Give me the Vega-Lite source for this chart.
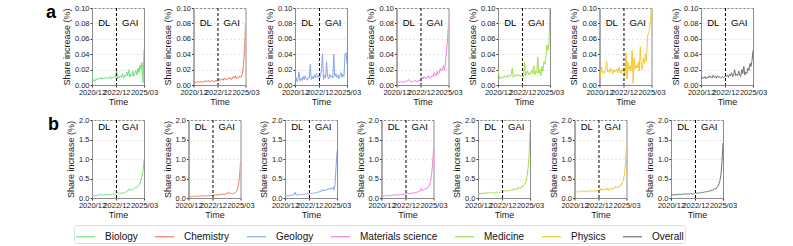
{
  "$schema": "https://vega.github.io/schema/vega-lite/v6.json",
  "padding": {"left": 45, "top": 3, "right": 5, "bottom": 0},
  "background": "white",
  "datasets": {
    "a": [
      {"t":"2020-12-01","Biology":0.015,"Chemistry":0.004,"Geology":0.006,"Materials science":0.005,"Medicine":0.020,"Physics":0.008,"Overall":0.012},
      {"t":"2021-01-01","Biology":0.006,"Chemistry":0.002,"Geology":0.010,"Materials science":0.003,"Medicine":0.012,"Physics":0.014,"Overall":0.008},
      {"t":"2021-02-01","Biology":0.005,"Chemistry":0.004,"Geology":0.004,"Materials science":0.004,"Medicine":0.008,"Physics":0.023,"Overall":0.010},
      {"t":"2021-03-01","Biology":0.007,"Chemistry":0.003,"Geology":0.008,"Materials science":0.003,"Medicine":0.010,"Physics":0.016,"Overall":0.009},
      {"t":"2021-04-01","Biology":0.006,"Chemistry":0.005,"Geology":0.017,"Materials science":0.004,"Medicine":0.009,"Physics":0.018,"Overall":0.011},
      {"t":"2021-05-01","Biology":0.008,"Chemistry":0.003,"Geology":0.005,"Materials science":0.005,"Medicine":0.011,"Physics":0.015,"Overall":0.008},
      {"t":"2021-06-01","Biology":0.007,"Chemistry":0.004,"Geology":0.009,"Materials science":0.003,"Medicine":0.010,"Physics":0.020,"Overall":0.010},
      {"t":"2021-07-01","Biology":0.009,"Chemistry":0.005,"Geology":0.006,"Materials science":0.004,"Medicine":0.012,"Physics":0.031,"Overall":0.009},
      {"t":"2021-08-01","Biology":0.008,"Chemistry":0.003,"Geology":0.011,"Materials science":0.005,"Medicine":0.011,"Physics":0.017,"Overall":0.012},
      {"t":"2021-09-01","Biology":0.010,"Chemistry":0.004,"Geology":0.007,"Materials science":0.004,"Medicine":0.010,"Physics":0.019,"Overall":0.010},
      {"t":"2021-10-01","Biology":0.007,"Chemistry":0.005,"Geology":0.012,"Materials science":0.005,"Medicine":0.013,"Physics":0.016,"Overall":0.011},
      {"t":"2021-11-01","Biology":0.009,"Chemistry":0.004,"Geology":0.008,"Materials science":0.006,"Medicine":0.012,"Physics":0.022,"Overall":0.009},
      {"t":"2021-12-01","Biology":0.008,"Chemistry":0.006,"Geology":0.006,"Materials science":0.007,"Medicine":0.011,"Physics":0.018,"Overall":0.013},
      {"t":"2022-01-01","Biology":0.010,"Chemistry":0.004,"Geology":0.010,"Materials science":0.005,"Medicine":0.014,"Physics":0.015,"Overall":0.010},
      {"t":"2022-02-01","Biology":0.009,"Chemistry":0.005,"Geology":0.009,"Materials science":0.004,"Medicine":0.022,"Physics":0.020,"Overall":0.011},
      {"t":"2022-03-01","Biology":0.008,"Chemistry":0.006,"Geology":0.027,"Materials science":0.005,"Medicine":0.010,"Physics":0.017,"Overall":0.009},
      {"t":"2022-04-01","Biology":0.010,"Chemistry":0.004,"Geology":0.007,"Materials science":0.004,"Medicine":0.012,"Physics":0.019,"Overall":0.012},
      {"t":"2022-05-01","Biology":0.009,"Chemistry":0.005,"Geology":0.011,"Materials science":0.005,"Medicine":0.013,"Physics":0.021,"Overall":0.010},
      {"t":"2022-06-01","Biology":0.011,"Chemistry":0.006,"Geology":0.008,"Materials science":0.006,"Medicine":0.011,"Physics":0.016,"Overall":0.011},
      {"t":"2022-07-01","Biology":0.008,"Chemistry":0.005,"Geology":0.013,"Materials science":0.005,"Medicine":0.014,"Physics":0.023,"Overall":0.009},
      {"t":"2022-08-01","Biology":0.010,"Chemistry":0.004,"Geology":0.009,"Materials science":0.004,"Medicine":0.012,"Physics":0.018,"Overall":0.010},
      {"t":"2022-09-01","Biology":0.009,"Chemistry":0.006,"Geology":0.015,"Materials science":0.005,"Medicine":0.013,"Physics":0.015,"Overall":0.011},
      {"t":"2022-10-01","Biology":0.011,"Chemistry":0.005,"Geology":0.010,"Materials science":0.006,"Medicine":0.011,"Physics":0.020,"Overall":0.009},
      {"t":"2022-11-01","Biology":0.010,"Chemistry":0.006,"Geology":0.012,"Materials science":0.005,"Medicine":0.012,"Physics":0.017,"Overall":0.010},
      {"t":"2022-12-01","Biology":0.020,"Chemistry":0.005,"Geology":0.008,"Materials science":0.006,"Medicine":0.014,"Physics":0.022,"Overall":0.012},
      {"t":"2023-01-01","Biology":0.008,"Chemistry":0.008,"Geology":0.012,"Materials science":0.010,"Medicine":0.010,"Physics":0.012,"Overall":0.011},
      {"t":"2023-02-01","Biology":0.011,"Chemistry":0.006,"Geology":0.020,"Materials science":0.008,"Medicine":0.030,"Physics":0.042,"Overall":0.013},
      {"t":"2023-03-01","Biology":0.009,"Chemistry":0.007,"Geology":0.040,"Materials science":0.011,"Medicine":0.012,"Physics":0.008,"Overall":0.010},
      {"t":"2023-04-01","Biology":0.012,"Chemistry":0.008,"Geology":0.007,"Materials science":0.009,"Medicine":0.015,"Physics":0.030,"Overall":0.014},
      {"t":"2023-05-01","Biology":0.010,"Chemistry":0.006,"Geology":0.013,"Materials science":0.008,"Medicine":0.018,"Physics":0.020,"Overall":0.012},
      {"t":"2023-06-01","Biology":0.015,"Chemistry":0.009,"Geology":0.009,"Materials science":0.010,"Medicine":0.013,"Physics":0.025,"Overall":0.016},
      {"t":"2023-07-01","Biology":0.009,"Chemistry":0.007,"Geology":0.030,"Materials science":0.012,"Medicine":0.016,"Physics":0.018,"Overall":0.011},
      {"t":"2023-08-01","Biology":0.013,"Chemistry":0.008,"Geology":0.011,"Materials science":0.009,"Medicine":0.014,"Physics":0.045,"Overall":0.013},
      {"t":"2023-09-01","Biology":0.011,"Chemistry":0.007,"Geology":0.008,"Materials science":0.011,"Medicine":0.019,"Physics":0.002,"Overall":0.020},
      {"t":"2023-10-01","Biology":0.017,"Chemistry":0.009,"Geology":0.014,"Materials science":0.010,"Medicine":0.015,"Physics":0.035,"Overall":0.012},
      {"t":"2023-11-01","Biology":0.012,"Chemistry":0.008,"Geology":0.010,"Materials science":0.012,"Medicine":0.025,"Physics":0.020,"Overall":0.014},
      {"t":"2023-12-01","Biology":0.020,"Chemistry":0.010,"Geology":0.012,"Materials science":0.011,"Medicine":0.013,"Physics":0.026,"Overall":0.012},
      {"t":"2024-01-01","Biology":0.010,"Chemistry":0.007,"Geology":0.009,"Materials science":0.016,"Medicine":0.018,"Physics":0.022,"Overall":0.018},
      {"t":"2024-02-01","Biology":0.014,"Chemistry":0.009,"Geology":0.040,"Materials science":0.013,"Medicine":0.016,"Physics":0.030,"Overall":0.013},
      {"t":"2024-03-01","Biology":0.012,"Chemistry":0.011,"Geology":0.011,"Materials science":0.012,"Medicine":0.036,"Physics":0.018,"Overall":0.011},
      {"t":"2024-04-01","Biology":0.018,"Chemistry":0.009,"Geology":0.015,"Materials science":0.018,"Medicine":0.015,"Physics":0.050,"Overall":0.020},
      {"t":"2024-05-01","Biology":0.011,"Chemistry":0.012,"Geology":0.010,"Materials science":0.014,"Medicine":0.020,"Physics":0.025,"Overall":0.015},
      {"t":"2024-06-01","Biology":0.015,"Chemistry":0.008,"Geology":0.013,"Materials science":0.016,"Medicine":0.012,"Physics":0.020,"Overall":0.024},
      {"t":"2024-07-01","Biology":0.019,"Chemistry":0.010,"Geology":0.008,"Materials science":0.022,"Medicine":0.024,"Physics":0.035,"Overall":0.013},
      {"t":"2024-08-01","Biology":0.013,"Chemistry":0.009,"Geology":0.012,"Materials science":0.018,"Medicine":0.018,"Physics":0.028,"Overall":0.017},
      {"t":"2024-09-01","Biology":0.022,"Chemistry":0.012,"Geology":0.016,"Materials science":0.020,"Medicine":0.030,"Physics":0.040,"Overall":0.015},
      {"t":"2024-10-01","Biology":0.016,"Chemistry":0.010,"Geology":0.010,"Materials science":0.025,"Medicine":0.027,"Physics":0.030,"Overall":0.022},
      {"t":"2024-11-01","Biology":0.026,"Chemistry":0.011,"Geology":0.014,"Materials science":0.019,"Medicine":0.038,"Physics":0.062,"Overall":0.019},
      {"t":"2024-12-01","Biology":0.020,"Chemistry":0.015,"Geology":0.011,"Materials science":0.030,"Medicine":0.052,"Physics":0.068,"Overall":0.028},
      {"t":"2025-01-01","Biology":0.029,"Chemistry":0.027,"Geology":0.040,"Materials science":0.045,"Medicine":0.045,"Physics":0.072,"Overall":0.024},
      {"t":"2025-02-01","Biology":0.003,"Chemistry":0.045,"Geology":0.042,"Materials science":0.060,"Medicine":0.055,"Physics":0.085,"Overall":0.032},
      {"t":"2025-03-01","Biology":0.046,"Chemistry":0.079,"Geology":0.028,"Materials science":0.080,"Medicine":0.105,"Physics":0.105,"Overall":0.045}
    ],
    "b": [
      {"t":"2020-12-01","Biology":0.06,"Chemistry":0.03,"Geology":0.06,"Materials science":0.05,"Medicine":0.12,"Physics":0.14,"Overall":0.08},
      {"t":"2021-01-01","Biology":0.05,"Chemistry":0.03,"Geology":0.05,"Materials science":0.04,"Medicine":0.10,"Physics":0.16,"Overall":0.07},
      {"t":"2021-02-01","Biology":0.06,"Chemistry":0.04,"Geology":0.07,"Materials science":0.05,"Medicine":0.11,"Physics":0.17,"Overall":0.08},
      {"t":"2021-03-01","Biology":0.07,"Chemistry":0.03,"Geology":0.05,"Materials science":0.06,"Medicine":0.12,"Physics":0.15,"Overall":0.08},
      {"t":"2021-04-01","Biology":0.06,"Chemistry":0.04,"Geology":0.06,"Materials science":0.05,"Medicine":0.11,"Physics":0.16,"Overall":0.09},
      {"t":"2021-05-01","Biology":0.07,"Chemistry":0.04,"Geology":0.08,"Materials science":0.06,"Medicine":0.12,"Physics":0.17,"Overall":0.08},
      {"t":"2021-06-01","Biology":0.08,"Chemistry":0.05,"Geology":0.06,"Materials science":0.07,"Medicine":0.13,"Physics":0.16,"Overall":0.09},
      {"t":"2021-07-01","Biology":0.07,"Chemistry":0.04,"Geology":0.07,"Materials science":0.06,"Medicine":0.12,"Physics":0.19,"Overall":0.09},
      {"t":"2021-08-01","Biology":0.08,"Chemistry":0.05,"Geology":0.09,"Materials science":0.07,"Medicine":0.13,"Physics":0.17,"Overall":0.10},
      {"t":"2021-09-01","Biology":0.11,"Chemistry":0.05,"Geology":0.08,"Materials science":0.06,"Medicine":0.12,"Physics":0.18,"Overall":0.09},
      {"t":"2021-10-01","Biology":0.08,"Chemistry":0.04,"Geology":0.15,"Materials science":0.07,"Medicine":0.14,"Physics":0.16,"Overall":0.10},
      {"t":"2021-11-01","Biology":0.07,"Chemistry":0.05,"Geology":0.08,"Materials science":0.08,"Medicine":0.13,"Physics":0.18,"Overall":0.09},
      {"t":"2021-12-01","Biology":0.08,"Chemistry":0.06,"Geology":0.07,"Materials science":0.07,"Medicine":0.12,"Physics":0.17,"Overall":0.10},
      {"t":"2022-01-01","Biology":0.08,"Chemistry":0.05,"Geology":0.09,"Materials science":0.08,"Medicine":0.14,"Physics":0.16,"Overall":0.10},
      {"t":"2022-02-01","Biology":0.09,"Chemistry":0.05,"Geology":0.08,"Materials science":0.07,"Medicine":0.15,"Physics":0.18,"Overall":0.11},
      {"t":"2022-03-01","Biology":0.08,"Chemistry":0.06,"Geology":0.10,"Materials science":0.08,"Medicine":0.13,"Physics":0.17,"Overall":0.10},
      {"t":"2022-04-01","Biology":0.09,"Chemistry":0.05,"Geology":0.09,"Materials science":0.09,"Medicine":0.14,"Physics":0.18,"Overall":0.10},
      {"t":"2022-05-01","Biology":0.08,"Chemistry":0.06,"Geology":0.08,"Materials science":0.08,"Medicine":0.13,"Physics":0.19,"Overall":0.11},
      {"t":"2022-06-01","Biology":0.09,"Chemistry":0.06,"Geology":0.10,"Materials science":0.09,"Medicine":0.15,"Physics":0.17,"Overall":0.10},
      {"t":"2022-07-01","Biology":0.09,"Chemistry":0.05,"Geology":0.09,"Materials science":0.08,"Medicine":0.14,"Physics":0.19,"Overall":0.11},
      {"t":"2022-08-01","Biology":0.10,"Chemistry":0.06,"Geology":0.11,"Materials science":0.09,"Medicine":0.15,"Physics":0.18,"Overall":0.11},
      {"t":"2022-09-01","Biology":0.09,"Chemistry":0.06,"Geology":0.10,"Materials science":0.10,"Medicine":0.14,"Physics":0.17,"Overall":0.10},
      {"t":"2022-10-01","Biology":0.10,"Chemistry":0.07,"Geology":0.12,"Materials science":0.09,"Medicine":0.16,"Physics":0.19,"Overall":0.11},
      {"t":"2022-11-01","Biology":0.10,"Chemistry":0.06,"Geology":0.10,"Materials science":0.10,"Medicine":0.15,"Physics":0.18,"Overall":0.11},
      {"t":"2022-12-01","Biology":0.12,"Chemistry":0.07,"Geology":0.13,"Materials science":0.10,"Medicine":0.17,"Physics":0.20,"Overall":0.13},
      {"t":"2023-01-01","Biology":0.15,"Chemistry":0.08,"Geology":0.11,"Materials science":0.14,"Medicine":0.16,"Physics":0.19,"Overall":0.12},
      {"t":"2023-02-01","Biology":0.12,"Chemistry":0.07,"Geology":0.12,"Materials science":0.11,"Medicine":0.20,"Physics":0.25,"Overall":0.13},
      {"t":"2023-03-01","Biology":0.11,"Chemistry":0.09,"Geology":0.10,"Materials science":0.12,"Medicine":0.17,"Physics":0.20,"Overall":0.12},
      {"t":"2023-04-01","Biology":0.12,"Chemistry":0.08,"Geology":0.13,"Materials science":0.10,"Medicine":0.18,"Physics":0.22,"Overall":0.14},
      {"t":"2023-05-01","Biology":0.13,"Chemistry":0.07,"Geology":0.14,"Materials science":0.12,"Medicine":0.19,"Physics":0.21,"Overall":0.13},
      {"t":"2023-06-01","Biology":0.12,"Chemistry":0.09,"Geology":0.12,"Materials science":0.13,"Medicine":0.18,"Physics":0.23,"Overall":0.14},
      {"t":"2023-07-01","Biology":0.14,"Chemistry":0.08,"Geology":0.15,"Materials science":0.12,"Medicine":0.20,"Physics":0.22,"Overall":0.15},
      {"t":"2023-08-01","Biology":0.13,"Chemistry":0.10,"Geology":0.13,"Materials science":0.14,"Medicine":0.19,"Physics":0.26,"Overall":0.14},
      {"t":"2023-09-01","Biology":0.15,"Chemistry":0.09,"Geology":0.17,"Materials science":0.13,"Medicine":0.22,"Physics":0.19,"Overall":0.16},
      {"t":"2023-10-01","Biology":0.16,"Chemistry":0.10,"Geology":0.15,"Materials science":0.15,"Medicine":0.20,"Physics":0.24,"Overall":0.15},
      {"t":"2023-11-01","Biology":0.18,"Chemistry":0.09,"Geology":0.19,"Materials science":0.14,"Medicine":0.24,"Physics":0.22,"Overall":0.17},
      {"t":"2023-12-01","Biology":0.23,"Chemistry":0.10,"Geology":0.17,"Materials science":0.17,"Medicine":0.21,"Physics":0.25,"Overall":0.16},
      {"t":"2024-01-01","Biology":0.21,"Chemistry":0.11,"Geology":0.22,"Materials science":0.16,"Medicine":0.23,"Physics":0.23,"Overall":0.18},
      {"t":"2024-02-01","Biology":0.20,"Chemistry":0.10,"Geology":0.18,"Materials science":0.18,"Medicine":0.22,"Physics":0.26,"Overall":0.17},
      {"t":"2024-03-01","Biology":0.22,"Chemistry":0.15,"Geology":0.20,"Materials science":0.25,"Medicine":0.28,"Physics":0.24,"Overall":0.20},
      {"t":"2024-04-01","Biology":0.21,"Chemistry":0.13,"Geology":0.19,"Materials science":0.20,"Medicine":0.24,"Physics":0.30,"Overall":0.19},
      {"t":"2024-05-01","Biology":0.24,"Chemistry":0.11,"Geology":0.23,"Materials science":0.19,"Medicine":0.27,"Physics":0.27,"Overall":0.21},
      {"t":"2024-06-01","Biology":0.25,"Chemistry":0.12,"Geology":0.21,"Materials science":0.22,"Medicine":0.25,"Physics":0.26,"Overall":0.22},
      {"t":"2024-07-01","Biology":0.27,"Chemistry":0.11,"Geology":0.25,"Materials science":0.24,"Medicine":0.30,"Physics":0.31,"Overall":0.24},
      {"t":"2024-08-01","Biology":0.26,"Chemistry":0.13,"Geology":0.22,"Materials science":0.23,"Medicine":0.29,"Physics":0.29,"Overall":0.23},
      {"t":"2024-09-01","Biology":0.30,"Chemistry":0.12,"Geology":0.26,"Materials science":0.27,"Medicine":0.34,"Physics":0.33,"Overall":0.27},
      {"t":"2024-10-01","Biology":0.33,"Chemistry":0.14,"Geology":0.24,"Materials science":0.28,"Medicine":0.36,"Physics":0.32,"Overall":0.30},
      {"t":"2024-11-01","Biology":0.38,"Chemistry":0.16,"Geology":0.28,"Materials science":0.33,"Medicine":0.42,"Physics":0.40,"Overall":0.36},
      {"t":"2024-12-01","Biology":0.45,"Chemistry":0.22,"Geology":0.20,"Materials science":0.42,"Medicine":0.55,"Physics":0.48,"Overall":0.45},
      {"t":"2025-01-01","Biology":0.55,"Chemistry":0.35,"Geology":0.35,"Materials science":0.60,"Medicine":0.75,"Physics":0.62,"Overall":0.62},
      {"t":"2025-02-01","Biology":0.70,"Chemistry":0.55,"Geology":0.80,"Materials science":0.85,"Medicine":1.10,"Physics":0.90,"Overall":0.95},
      {"t":"2025-03-01","Biology":0.97,"Chemistry":0.92,"Geology":1.20,"Materials science":1.25,"Medicine":1.70,"Physics":1.35,"Overall":1.41}
    ]
  },
  "vconcat": [
    {
      "data": {"name": "a"},
      "title": {"text": "a", "orient": "left", "anchor": "end", "angle": 0, "baseline": "top", "align": "right", "offset": -4},
      "repeat": {"column": ["Biology", "Chemistry", "Geology", "Materials science", "Medicine", "Physics", "Overall"]},
      "spacing": 3.5,
      "spec": {
        "width": 52,
        "height": 77,
        "layer": [
          {
            "mark": {"type": "line", "strokeWidth": 1, "clip": true},
            "encoding": {
              "x": {"field": "t", "type": "temporal",
                "scale": {"type": "utc", "domain": [{"year": 2020, "month": 12, "date": 1, "utc": true}, {"year": 2025, "month": 3, "date": 1, "utc": true}]},
                "axis": {"title": "Time", "format": "%Y/%m", "labelOverlap": false, "labelFlush": false, "values": [{"year": 2020, "month": 12, "date": 1, "utc": true}, {"year": 2022, "month": 12, "date": 1, "utc": true}, {"year": 2025, "month": 3, "date": 1, "utc": true}]}},
              "y": {"field": {"repeat": "column"}, "type": "quantitative",
                "scale": {"domain": [0, 0.1], "nice": false},
                "axis": {"title": "Share increase (%)", "labelOverlap": false, "values": [0, 0.02, 0.04, 0.06, 0.08, 0.1], "format": ".2f"}},
              "color": {"datum": {"repeat": "column"}, "type": "nominal",
                "scale": {"domain": ["Biology", "Chemistry", "Geology", "Materials science", "Medicine", "Physics", "Overall"],
                  "range": ["#72e07c", "#f27b63", "#8aa5ee", "#ee7de6", "#9fe040", "#f6c62a", "#6b7572"]},
                "legend": {"orient": "none", "legendX": -18, "legendY": 217, "direction": "horizontal", "title": null}}
            }
          },
          {
            "data": {"values": [{}]},
            "mark": {"type": "rule", "color": "black", "strokeDash": [3, 2], "strokeWidth": 1},
            "encoding": {"x": {"datum": {"year": 2022, "month": 12, "date": 1, "utc": true}, "type": "temporal",
              "axis": {"title": "Time", "format": "%Y/%m", "labelOverlap": false, "labelFlush": false, "values": [{"year": 2020, "month": 12, "date": 1, "utc": true}, {"year": 2022, "month": 12, "date": 1, "utc": true}, {"year": 2025, "month": 3, "date": 1, "utc": true}]}}}
          },
          {
            "data": {"values": [{}]},
            "mark": {"type": "text", "fontSize": 9.5, "color": "black"},
            "encoding": {
              "x": {"datum": {"year": 2021, "month": 12, "date": 1, "utc": true}, "type": "temporal",
                "axis": {"title": "Time", "format": "%Y/%m", "labelOverlap": false, "labelFlush": false, "values": [{"year": 2020, "month": 12, "date": 1, "utc": true}, {"year": 2022, "month": 12, "date": 1, "utc": true}, {"year": 2025, "month": 3, "date": 1, "utc": true}]}},
              "y": {"datum": 0.08, "type": "quantitative",
                "axis": {"title": "Share increase (%)", "labelOverlap": false, "values": [0, 0.02, 0.04, 0.06, 0.08, 0.1], "format": ".2f"}},
              "text": {"value": "DL"}}
          },
          {
            "data": {"values": [{}]},
            "mark": {"type": "text", "fontSize": 9.5, "color": "black"},
            "encoding": {
              "x": {"datum": {"year": 2024, "month": 1, "date": 15, "utc": true}, "type": "temporal",
                "axis": {"title": "Time", "format": "%Y/%m", "labelOverlap": false, "labelFlush": false, "values": [{"year": 2020, "month": 12, "date": 1, "utc": true}, {"year": 2022, "month": 12, "date": 1, "utc": true}, {"year": 2025, "month": 3, "date": 1, "utc": true}]}},
              "y": {"datum": 0.08, "type": "quantitative",
                "axis": {"title": "Share increase (%)", "labelOverlap": false, "values": [0, 0.02, 0.04, 0.06, 0.08, 0.1], "format": ".2f"}},
              "text": {"value": "GAI"}}
          }
        ]
      }
    },
    {
      "data": {"name": "b"},
      "title": {"text": "b", "orient": "left", "anchor": "end", "angle": 0, "baseline": "top", "align": "right", "offset": -4},
      "repeat": ["Biology", "Chemistry", "Geology", "Materials science", "Medicine", "Physics", "Overall"],
      "columns": 7,
      "spacing": 3.5,
      "spec": {
        "width": 52,
        "height": 78,
        "layer": [
          {
            "mark": {"type": "line", "strokeWidth": 1, "clip": true},
            "encoding": {
              "x": {"field": "t", "type": "temporal",
                "scale": {"type": "utc", "domain": [{"year": 2020, "month": 12, "date": 1, "utc": true}, {"year": 2025, "month": 3, "date": 1, "utc": true}]},
                "axis": {"title": "Time", "format": "%Y/%m", "labelOverlap": false, "labelFlush": false, "values": [{"year": 2020, "month": 12, "date": 1, "utc": true}, {"year": 2022, "month": 12, "date": 1, "utc": true}, {"year": 2025, "month": 3, "date": 1, "utc": true}]}},
              "y": {"field": {"repeat": "repeat"}, "type": "quantitative",
                "scale": {"domain": [0, 2], "nice": false},
                "axis": {"title": "Share increase (%)", "labelOverlap": false, "values": [0, 0.5, 1, 1.5, 2], "format": ".1f"}},
              "color": {"datum": {"repeat": "repeat"}, "type": "nominal",
                "scale": {"domain": ["Biology", "Chemistry", "Geology", "Materials science", "Medicine", "Physics", "Overall"],
                  "range": ["#72e07c", "#f27b63", "#8aa5ee", "#ee7de6", "#9fe040", "#f6c62a", "#6b7572"]},
                "legend": {"orient": "none", "legendX": -18, "legendY": 217, "direction": "horizontal", "title": null}}
            }
          },
          {
            "data": {"values": [{}]},
            "mark": {"type": "rule", "color": "black", "strokeDash": [3, 2], "strokeWidth": 1},
            "encoding": {"x": {"datum": {"year": 2022, "month": 12, "date": 1, "utc": true}, "type": "temporal",
              "axis": {"title": "Time", "format": "%Y/%m", "labelOverlap": false, "labelFlush": false, "values": [{"year": 2020, "month": 12, "date": 1, "utc": true}, {"year": 2022, "month": 12, "date": 1, "utc": true}, {"year": 2025, "month": 3, "date": 1, "utc": true}]}}}
          },
          {
            "data": {"values": [{}]},
            "mark": {"type": "text", "fontSize": 9.5, "color": "black"},
            "encoding": {
              "x": {"datum": {"year": 2021, "month": 12, "date": 1, "utc": true}, "type": "temporal",
                "axis": {"title": "Time", "format": "%Y/%m", "labelOverlap": false, "labelFlush": false, "values": [{"year": 2020, "month": 12, "date": 1, "utc": true}, {"year": 2022, "month": 12, "date": 1, "utc": true}, {"year": 2025, "month": 3, "date": 1, "utc": true}]}},
              "y": {"datum": 1.82, "type": "quantitative",
                "axis": {"title": "Share increase (%)", "labelOverlap": false, "values": [0, 0.5, 1, 1.5, 2], "format": ".1f"}},
              "text": {"value": "DL"}}
          },
          {
            "data": {"values": [{}]},
            "mark": {"type": "text", "fontSize": 9.5, "color": "black"},
            "encoding": {
              "x": {"datum": {"year": 2024, "month": 1, "date": 15, "utc": true}, "type": "temporal",
                "axis": {"title": "Time", "format": "%Y/%m", "labelOverlap": false, "labelFlush": false, "values": [{"year": 2020, "month": 12, "date": 1, "utc": true}, {"year": 2022, "month": 12, "date": 1, "utc": true}, {"year": 2025, "month": 3, "date": 1, "utc": true}]}},
              "y": {"datum": 1.82, "type": "quantitative",
                "axis": {"title": "Share increase (%)", "labelOverlap": false, "values": [0, 0.5, 1, 1.5, 2], "format": ".1f"}},
              "text": {"value": "GAI"}}
          }
        ]
      }
    }
  ],
  "spacing": 8,
  "resolve": {"scale": {"y": "independent"}},
  "config": {
    "font": "Liberation Sans",
    "view": {"stroke": "#8c8c8c", "strokeWidth": 1},
    "axis": {"labelFontSize": 7.5, "titleFontSize": 9, "labelColor": "#1a1a1a", "titleColor": "#1a1a1a", "titleFontWeight": "normal", "domainColor": "#8c8c8c", "tickColor": "#333333", "tickSize": 2, "labelOverlap": false},
    "axisX": {"grid": false, "labelPadding": 1, "titlePadding": 2},
    "axisY": {"grid": true, "gridColor": "#e3e3e3", "gridDash": [2, 2], "labelPadding": 1, "titlePadding": 3},
    "title": {"fontSize": 18, "fontWeight": "bold", "color": "black"},
    "legend": {"symbolType": "stroke", "symbolSize": 361, "symbolStrokeWidth": 1.2, "labelFontSize": 10, "labelOffset": 9, "columnPadding": 14, "strokeColor": "#dddddd", "padding": 1, "cornerRadius": 3, "labelColor": "#111111"}
  }
}
